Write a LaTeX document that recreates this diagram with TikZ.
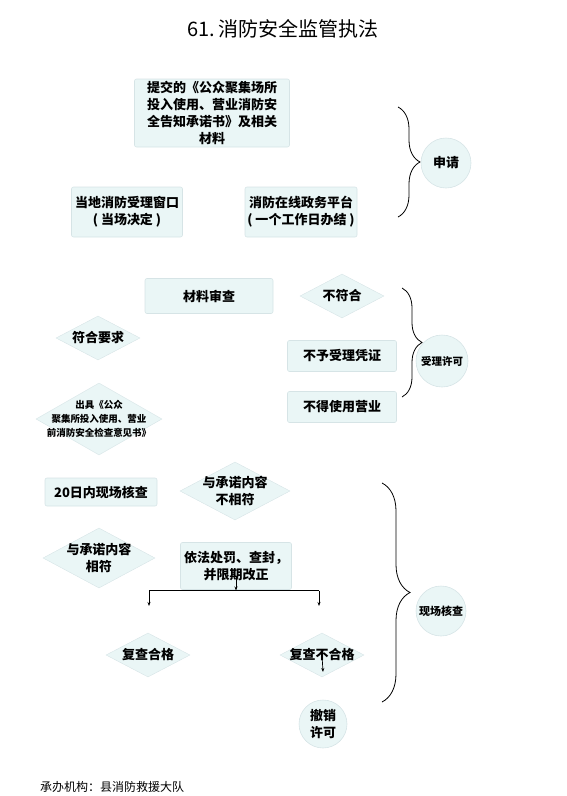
\documentclass[tikz,border=0pt]{standalone}
\usepackage{fontspec}
\setmainfont{Noto Sans CJK SC}
\usetikzlibrary{shapes.geometric,arrows.meta,decorations.pathreplacing}
\definecolor{nfill}{HTML}{EAF6F6}
\definecolor{nline}{HTML}{D6E4E6}
\tikzset{
  boxn/.style={draw=nline, line width=0.6pt, fill=nfill, rounded corners=2pt, inner sep=1pt,
    font=\fontsize{13}{17}\selectfont\bfseries, align=center},
  diam/.style={diamond, draw=nline, line width=0.4pt, fill=nfill, inner sep=0pt},
  dtxt/.style={inner sep=0pt, font=\fontsize{13}{17}\selectfont\bfseries, align=center},
  circn/.style={circle, draw=nline, line width=0.6pt, fill=nfill, inner sep=0pt, align=center,
    font=\fontsize{13}{17}\selectfont\bfseries},
  bracen/.style={decorate, line width=0.8pt, draw=black},
  arr/.style={-{Stealth[length=4pt,width=3pt]}, line width=0.7pt}
}
\begin{document}
\begin{tikzpicture}[x=1pt,y=-1pt]
\useasboundingbox (0,0) rectangle (567,796);
% title
\node[font=\fontsize{20}{24}\selectfont] (title) at (283,29) {61.\,消防安全监管执法};
% application
\node[boxn, minimum width=155, minimum height=68] (b1) at (212,113)
  {提交的《公众聚集场所\\投入使用、营业消防安\\全告知承诺书》及相关\\材料};
\node[boxn, minimum width=111, minimum height=50] (b2) at (127,212)
  {当地消防受理窗口\\( 当场决定 )};
\node[boxn, minimum width=112, minimum height=50] (b3) at (301,212)
  {消防在线政务平台\\( 一个工作日办结 )};
\draw[bracen, decoration={brace, amplitude=22pt}] (398,107) -- (398,217);
\node[circn, minimum size=50] (c1) at (446,163) {申请};
% acceptance
\node[boxn, minimum width=128, minimum height=35] (b4) at (209,296) {材料审查};
\node[diam, minimum width=84, minimum height=44] (d1) at (342,296) {};
\node[dtxt] (d1t) at (d1.center) {不符合};
\node[diam, minimum width=84, minimum height=44] (d2) at (98,338) {};
\node[dtxt] (d2t) at (d2.center) {符合要求};
\node[boxn, minimum width=109, minimum height=31] (b5) at (342,356) {不予受理凭证};
\node[boxn, minimum width=109, minimum height=31] (b6) at (342,407) {不得使用营业};
\draw[bracen, decoration={brace, amplitude=20pt}] (402,288) -- (402,397);
\node[circn, minimum size=52, font=\fontsize{10.5}{13}\selectfont\bfseries] (c2) at (442,361) {受理许可};
\node[diam, minimum width=126, minimum height=72] (d3) at (99,419) {};
\node[dtxt, font=\fontsize{9.5}{14}\selectfont\bfseries] (d3t) at (d3.center)
  {出具《公众\\聚集所投入使用、营业\\前消防安全检查意见书》};
% on-site check
\node[boxn, minimum width=112, minimum height=28] (b7) at (101,492) {20日内现场核查};
\node[diam, minimum width=110, minimum height=58] (d4) at (235,491) {};
\node[dtxt] (d4t) at (d4.center) {与承诺内容\\不相符};
\node[diam, minimum width=112, minimum height=60] (d5) at (99,558) {};
\node[dtxt] (d5t) at (d5.center) {与承诺内容\\相符};
\node[boxn, minimum width=111, minimum height=47] (b8) at (236,566) {依法处罚、查封，\\并限期改正};
\coordinate (ps) at (236,576);
\coordinate (j) at (236,590.5);
\coordinate (jl) at (149,590.5);
\coordinate (jr) at (319,590.5);
\coordinate (jld) at (149,606);
\coordinate (jrd) at (319,606);
\draw[arr] (ps) -- (j);
\draw[line width=0.7pt] (jl) -- (jr);
\draw[arr] (jl) -- (jld);
\draw[arr] (jr) -- (jrd);
\draw[bracen, decoration={brace, amplitude=28pt}] (382,483) -- (382,702);
\node[circn, minimum size=50, font=\fontsize{11}{14}\selectfont\bfseries] (c3) at (441,611) {现场核查};
\node[diam, minimum width=84, minimum height=44] (d6) at (148,655) {};
\node[dtxt] (d6t) at (d6.center) {复查合格};
\node[diam, minimum width=84, minimum height=44] (d7) at (322,655) {};
\node[dtxt] (d7t) at (d7.center) {复查不合格};
\coordinate (d7e) at (323,672);
\draw[arr] (d7.center) -- (d7e);
\node[circn, minimum size=48] (c4) at (323,724) {撤销\\许可};
% footer
\node[anchor=west, inner sep=0pt, font=\fontsize{12}{14}\selectfont] (foot) at (40,787) {承办机构：县消防救援大队};
\end{tikzpicture}
\end{document}
